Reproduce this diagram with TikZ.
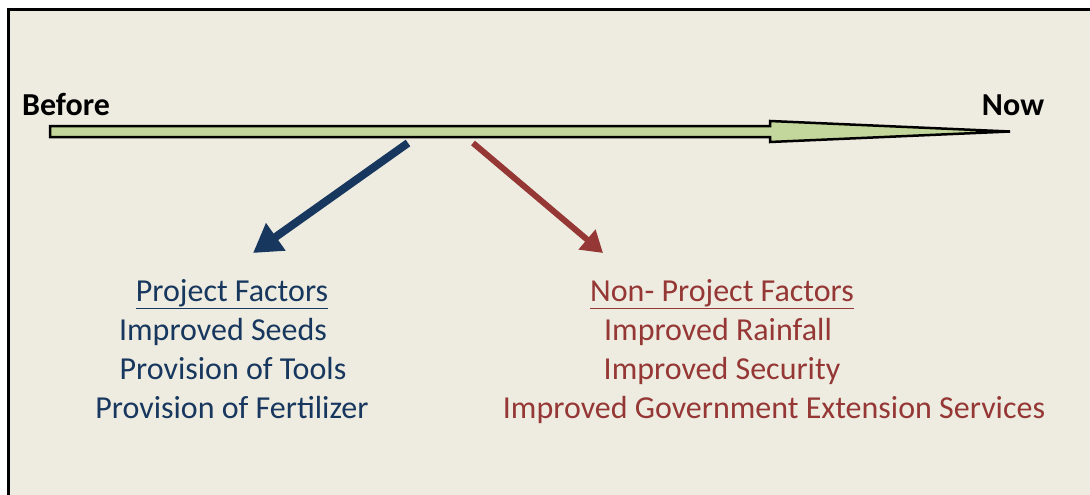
\documentclass[tikz,border=0pt]{standalone}
\usepackage{fontspec}
\setmainfont{Carlito}
\usetikzlibrary{arrows.meta,positioning,calc}
\definecolor{bgpaper}{HTML}{EEECE1}
\definecolor{shaftgreen}{HTML}{C3D69B}
\definecolor{projblue}{HTML}{17375E}
\definecolor{nonred}{HTML}{953735}

\begin{document}
\begin{tikzpicture}[x=1pt,y=-1pt,
    txt/.style={anchor=base,inner sep=0pt,font=\fontsize{32}{38}\selectfont},
    ends/.style={txt,font=\fontsize{32}{38}\selectfont\bfseries},
    blue/.style={txt,text=projblue},
    red/.style={txt,text=nonred}]
    \useasboundingbox(0,0)rectangle(1090,495);
    \fill[white](0,0)rectangle(1090,495);
    \draw[line width=3,fill=bgpaper](8,10)rectangle(1110,520);
    % time line
    \draw[line width=2.5,fill=shaftgreen,line join=miter]
        (50,126)--(770,126)--(770,121)--(1010,131.5)--(770,142)--(770,137)--(50,137)--cycle;
    \node[ends](before)at(66,115){Before};
    \node[ends](now)at(1013,115){Now};
    % project side
    \node[blue](p0)at(232,301){\underline{Project Factors}};
    \node[blue](p1)at(223,340){Improved Seeds};
    \node[blue](p2)at(233,379){Provision of Tools};
    \node[blue](p3)at(232,418){Provision of Fertilizer};
    % non-project side
    \node[red](n0)at(722,301){\underline{Non- Project Factors}};
    \node[red](n1)at(718,340){Improved Rainfall};
    \node[red](n2)at(722,379){Improved Security};
    \node[red](n3)at(774,418){Improved Government Extension Services};
    \coordinate(bs)at(408,143);
    \coordinate(be)at(253,253);
    \coordinate(rs)at(473,143);
    \coordinate(re)at(603,253);
    \draw[projblue,line width=8,-{Triangle[length=28,width=32]}](bs)--(be);
    \draw[nonred,line width=6,-{Triangle[length=21,width=25]}](rs)--(re);
\end{tikzpicture}
\end{document}
